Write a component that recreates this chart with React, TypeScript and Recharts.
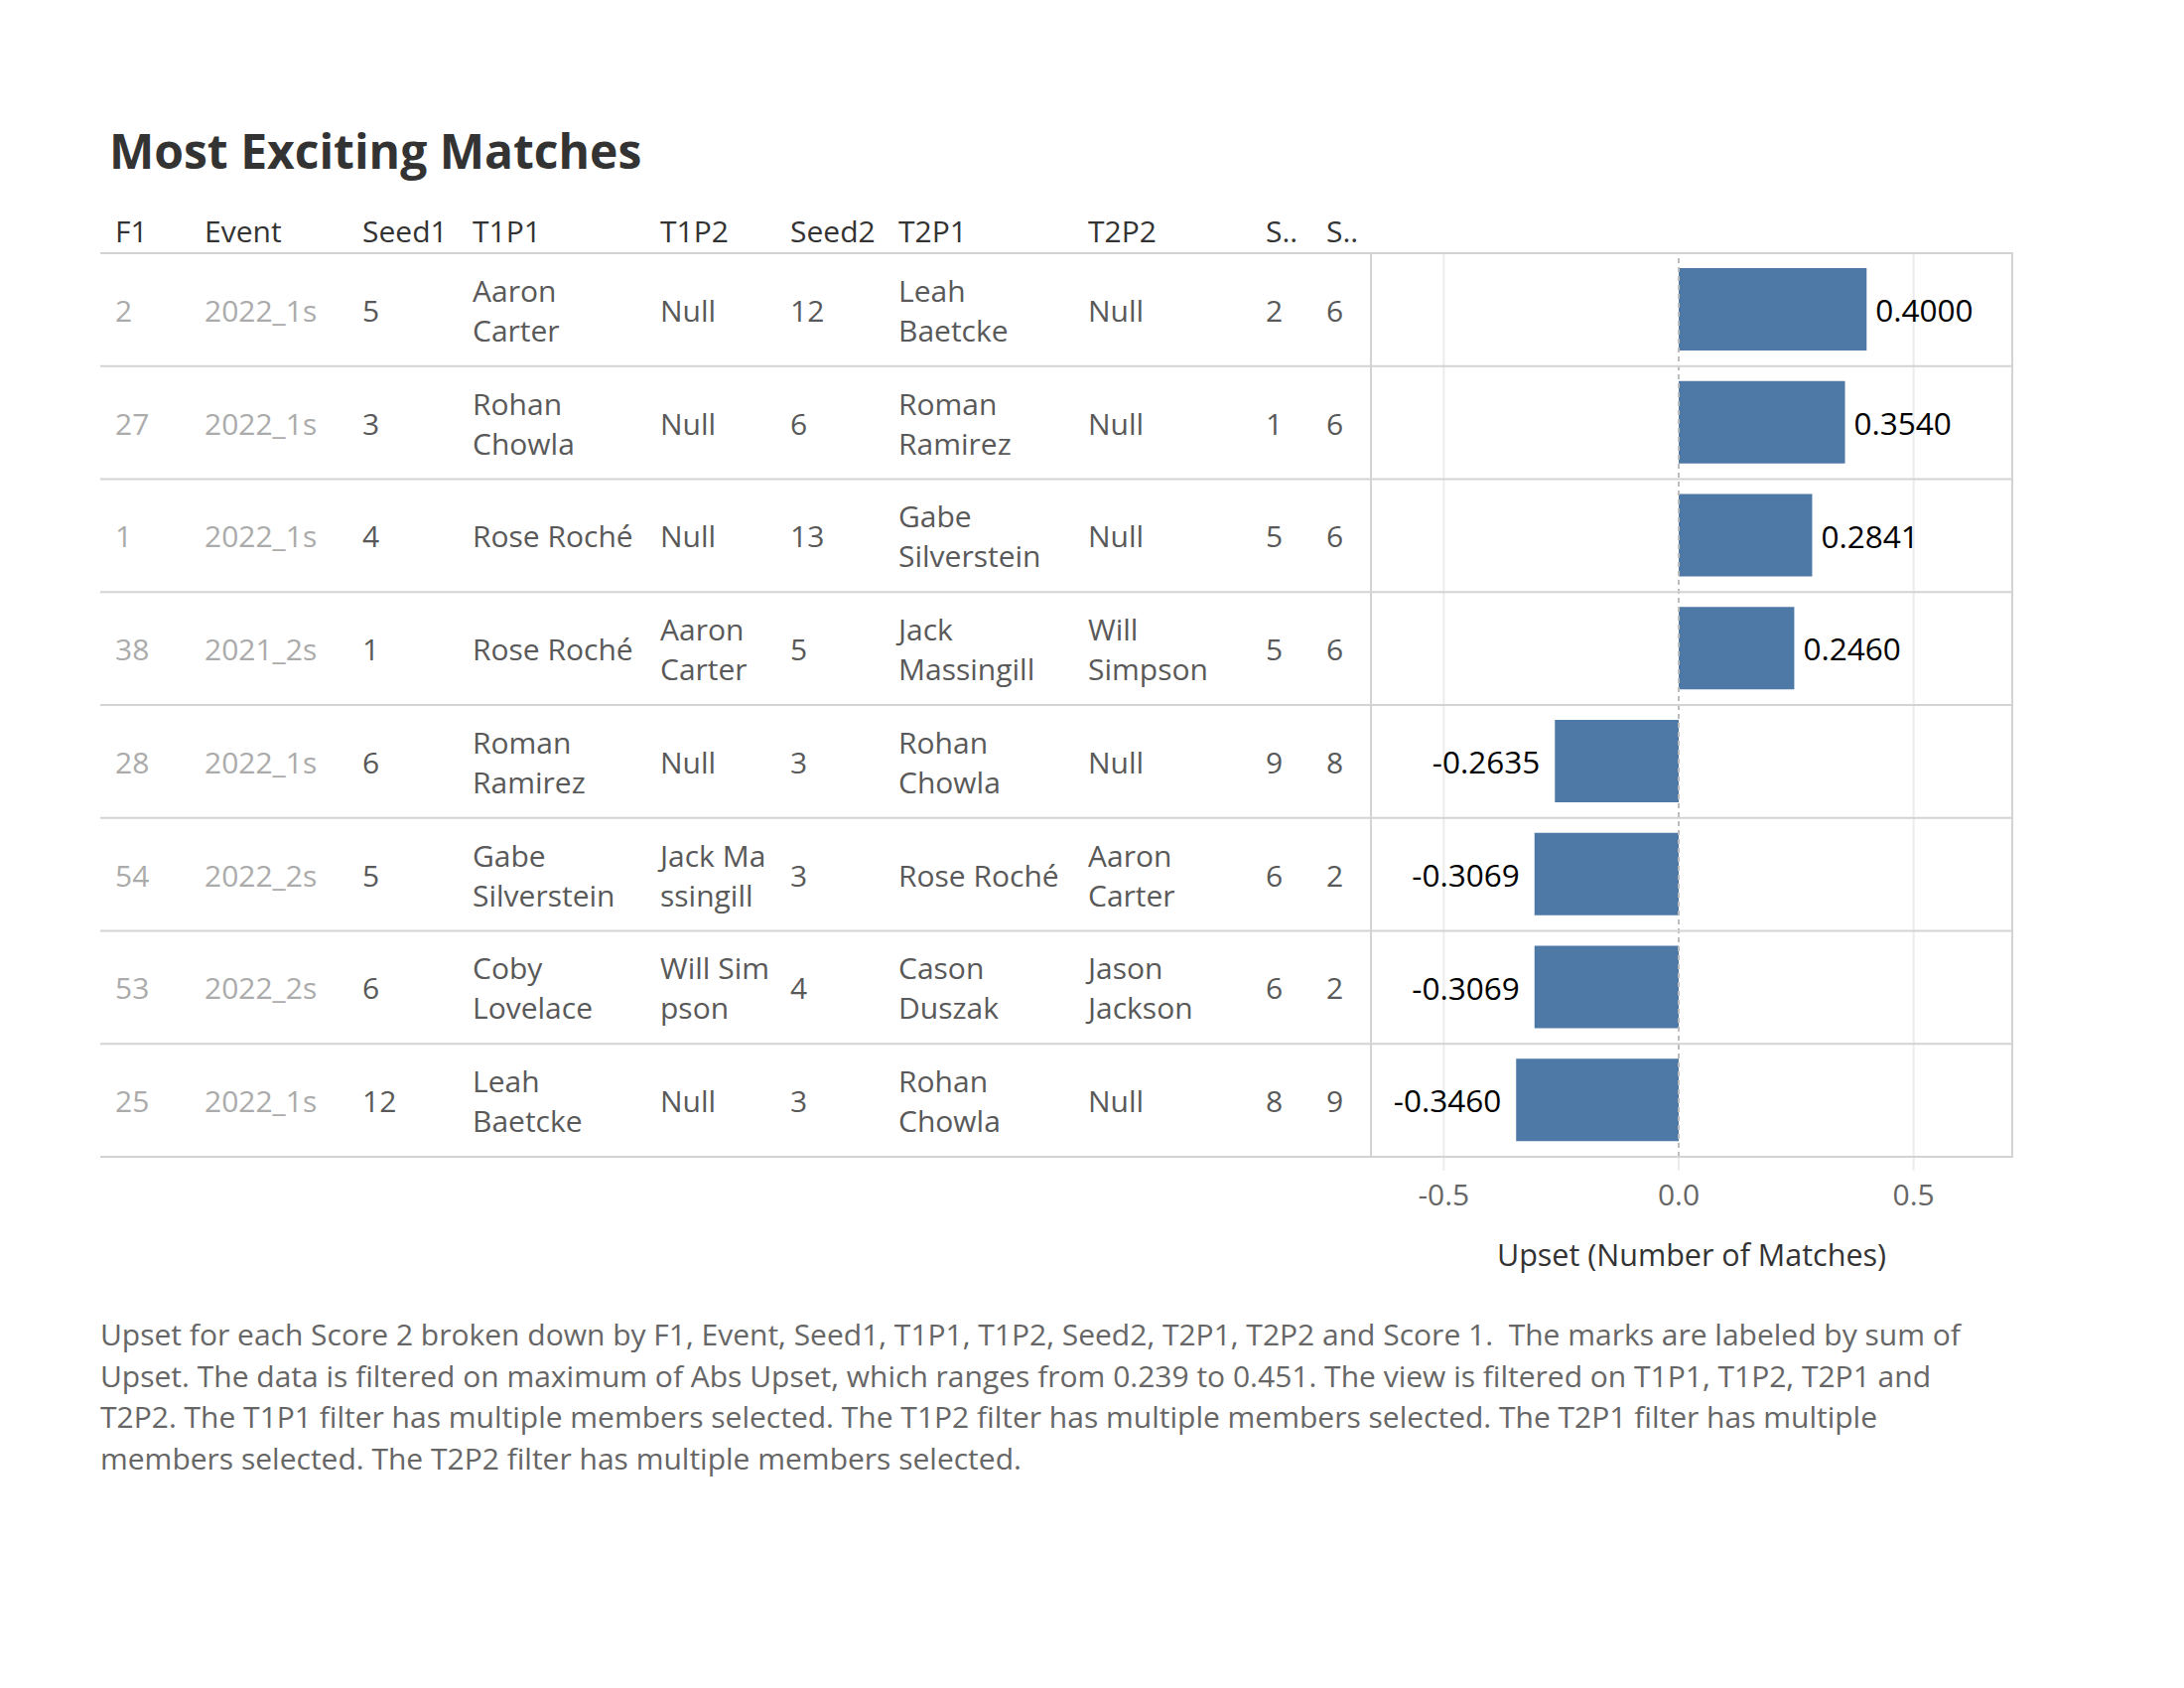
import React from 'react';
import { BarChart, Bar, XAxis, YAxis, ReferenceLine, ReferenceArea, LabelList } from 'recharts';

// table columns, one entry per match (top to bottom)
const headers = ['F1', 'Event', 'Seed1', 'T1P1', 'T1P2', 'Seed2', 'T2P1', 'T2P2', 'S..', 'S..'];
const f1 = ['2', '27', '1', '38', '28', '54', '53', '25'];
const events = ['2022_1s', '2022_1s', '2022_1s', '2021_2s', '2022_1s', '2022_2s', '2022_2s', '2022_1s'];
const seed1 = ['5', '3', '4', '1', '6', '5', '6', '12'];
const t1p1 = ['Aaron\nCarter', 'Rohan\nChowla', 'Rose Roché', 'Rose Roché', 'Roman\nRamirez', 'Gabe\nSilverstein', 'Coby\nLovelace', 'Leah\nBaetcke'];
const t1p2 = ['Null', 'Null', 'Null', 'Aaron\nCarter', 'Null', 'Jack Ma\nssingill', 'Will Sim\npson', 'Null'];
const seed2 = ['12', '6', '13', '5', '3', '3', '4', '3'];
const t2p1 = ['Leah\nBaetcke', 'Roman\nRamirez', 'Gabe\nSilverstein', 'Jack\nMassingill', 'Rohan\nChowla', 'Rose Roché', 'Cason\nDuszak', 'Rohan\nChowla'];
const t2p2 = ['Null', 'Null', 'Null', 'Will\nSimpson', 'Null', 'Aaron\nCarter', 'Jason\nJackson', 'Null'];
const score1 = ['2', '1', '5', '5', '9', '6', '6', '8'];
const score2 = ['6', '6', '6', '6', '8', '2', '2', '9'];
const upset = [0.4, 0.354, 0.2841, 0.246, -0.2635, -0.3069, -0.3069, -0.346];

const xTicks = [-0.5, 0, 0.5];

const footnote = [
  'Upset for each Score 2 broken down by F1, Event, Seed1, T1P1, T1P2, Seed2, T2P1, T2P2 and Score 1.  The marks are labeled by sum of',
  'Upset. The data is filtered on maximum of Abs Upset, which ranges from 0.239 to 0.451. The view is filtered on T1P1, T1P2, T2P1 and',
  'T2P2. The T1P1 filter has multiple members selected. The T1P2 filter has multiple members selected. The T2P1 filter has multiple',
  'members selected. The T2P2 filter has multiple members selected.',
];

const data = f1.map((k, i) => ({ f1: k, upset: upset[i] }));

// layout
const TABLE_LEFT = 101;
const PLOT_TOP = 255;
const PLOT_BOTTOM = 1165;
const PLOT_LEFT = 1381;
const PLOT_RIGHT = 2027;
const CHART_H = 1320;
const BAND = (PLOT_BOTTOM - PLOT_TOP) / f1.length;
const colX = [116, 206, 365, 476, 665, 796, 905, 1096, 1275, 1336];
const FONT = 30;
const LINE_COLOR = '#d3d3d3';

const Cell = ({ x, y, text, color }: { x: number; y: number; text: string; color: string }) => {
  const lines = text.split('\n');
  return (
    <text x={x} fill={color} fontSize={FONT} dominantBaseline="central">
      {lines.map((l, j) => (
        <tspan key={j} x={x} y={y + (j - (lines.length - 1) / 2) * 40}>
          {l}
        </tspan>
      ))}
    </text>
  );
};

const RowTick = (props: any) => {
  const { y, payload } = props;
  const i = f1.indexOf(String(payload.value));
  if (i < 0) return null;
  const cols = [f1, events, seed1, t1p1, t1p2, seed2, t2p1, t2p2, score1, score2];
  return (
    <g>
      {i === 0 && (
        <g>
          {headers.map((h, j) => (
            <text key={j} x={colX[j]} y={y - BAND / 2 - 11} fill="#333" fontSize={FONT}>
              {h}
            </text>
          ))}
          <line x1={TABLE_LEFT} x2={PLOT_RIGHT} y1={y - BAND / 2} y2={y - BAND / 2} stroke={LINE_COLOR} strokeWidth={2} />
        </g>
      )}
      <line x1={TABLE_LEFT} x2={PLOT_RIGHT} y1={y + BAND / 2} y2={y + BAND / 2} stroke={LINE_COLOR} strokeWidth={2} />
      {cols.map((c, j) => (
        <Cell key={j} x={colX[j]} y={y} text={c[i]} color={j < 2 ? '#ababab' : '#595959'} />
      ))}
    </g>
  );
};

const BarValue = (props: any) => {
  const { x, y, width, height, value } = props;
  const left = Math.min(x, x + width);
  const right = Math.max(x, x + width);
  const pos = value >= 0;
  return (
    <text
      x={pos ? right + 9 : left - 15}
      y={y + height / 2}
      textAnchor={pos ? 'start' : 'end'}
      dominantBaseline="central"
      fill="#000"
      fontSize={31.5}
    >
      {Number(value).toFixed(4)}
    </text>
  );
};

export default function App() {
  return (
    <div
      style={{
        position: 'absolute',
        left: 0,
        top: 0,
        width: 2200,
        height: 1700,
        background: '#fff',
        fontFamily: '"Open Sans", sans-serif',
      }}
    >
      <div
        style={{
          position: 'absolute',
          left: 110,
          top: 128,
          fontSize: 48,
          lineHeight: '48px',
          fontWeight: 700,
          color: '#333',
          whiteSpace: 'nowrap',
        }}
      >
        Most Exciting Matches
      </div>

      <div style={{ position: 'absolute', left: 0, top: 0 }}>
        <BarChart
          width={2200}
          height={CHART_H}
          data={data}
          layout="vertical"
          margin={{ top: PLOT_TOP, right: 2200 - PLOT_RIGHT, bottom: 0, left: 0 }}
        >
          <XAxis
            type="number"
            domain={[-0.655, 0.71]}
            ticks={xTicks}
            allowDataOverflow
            axisLine={false}
            tickLine={{ stroke: '#ececec', strokeWidth: 2 }}
            tickSize={14}
            tickMargin={14}
            height={CHART_H - PLOT_BOTTOM}
            tick={{ fill: '#666', fontSize: FONT }}
            tickFormatter={(v: number) => v.toFixed(1)}
            label={{ value: 'Upset (Number of Matches)', position: 'insideBottom', offset: 45, fill: '#333', fontSize: 30.5 }}
          />
          <YAxis
            type="category"
            dataKey="f1"
            width={PLOT_LEFT}
            axisLine={false}
            tickLine={false}
            interval={0}
            tick={<RowTick />}
          />
          <ReferenceLine x={-0.5} stroke="#ececec" strokeWidth={2} />
          <ReferenceLine x={0.5} stroke="#ececec" strokeWidth={2} />
          <ReferenceArea x1={-0.655} x2={0.71} fill="none" stroke={LINE_COLOR} strokeWidth={2} />
          <ReferenceLine x={0} stroke="#bdbdbd" strokeWidth={2} strokeDasharray="5 4" />
          <Bar dataKey="upset" fill="#4e79a7" barSize={83} isAnimationActive={false}>
            <LabelList dataKey="upset" content={<BarValue />} />
          </Bar>
        </BarChart>
      </div>

      <div
        style={{
          position: 'absolute',
          left: TABLE_LEFT,
          top: 1323,
          fontSize: 30,
          lineHeight: '41.6px',
          color: '#666',
          whiteSpace: 'pre',
        }}
      >
        {footnote.map((l, i) => (
          <div key={i}>{l}</div>
        ))}
      </div>
    </div>
  );
}
